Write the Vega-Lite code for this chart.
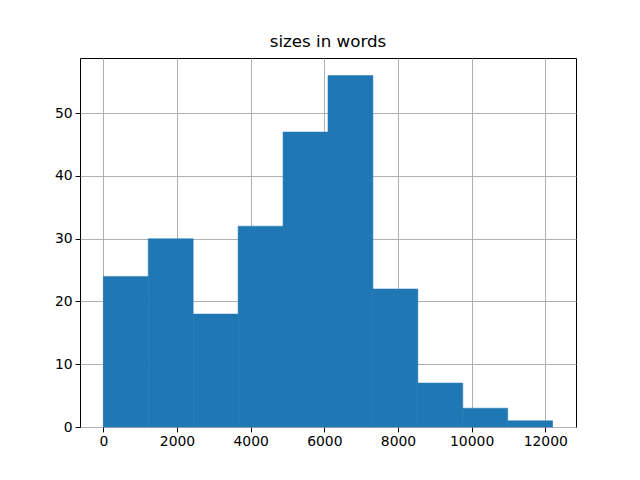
{
  "$schema": "https://vega.github.io/schema/vega-lite/v6.json",
  "width": 496,
  "height": 369,
  "autosize": {"type": "none"},
  "padding": {"left": 80, "top": 58, "right": 64, "bottom": 53},
  "background": "white",
  "title": {
    "text": "sizes in words",
    "anchor": "middle",
    "font": "DejaVu Sans",
    "fontSize": 16.7,
    "fontWeight": "normal",
    "color": "black",
    "offset": 7
  },
  "config": {
    "view": {"stroke": "black", "strokeWidth": 1},
    "axis": {
      "labelFont": "DejaVu Sans",
      "labelFontSize": 13.9,
      "labelColor": "black",
      "domain": false,
      "tickColor": "black",
      "tickSize": 4.9,
      "tickWidth": 1,
      "labelPadding": 3,
      "grid": true,
      "gridColor": "#b0b0b0",
      "gridWidth": 1,
      "title": null,
      "zindex": 1
    }
  },
  "data": {
    "values": [
      {"start": 0, "end": 1220, "count": 24},
      {"start": 1220, "end": 2440, "count": 30},
      {"start": 2440, "end": 3660, "count": 18},
      {"start": 3660, "end": 4880, "count": 32},
      {"start": 4880, "end": 6100, "count": 47},
      {"start": 6100, "end": 7320, "count": 56},
      {"start": 7320, "end": 8540, "count": 22},
      {"start": 8540, "end": 9760, "count": 7},
      {"start": 9760, "end": 10980, "count": 3},
      {"start": 10980, "end": 12200, "count": 1}
    ]
  },
  "mark": {"type": "bar", "color": "#1f77b4", "stroke": "#1f77b4", "strokeWidth": 0.5},
  "encoding": {
    "x": {
      "field": "start",
      "type": "quantitative",
      "scale": {"domain": [-633, 12834], "nice": false, "zero": false, "padding": 0},
      "axis": {"values": [0, 2000, 4000, 6000, 8000, 10000, 12000], "format": "d", "labelFlush": false}
    },
    "x2": {"field": "end"},
    "y": {
      "field": "count",
      "type": "quantitative",
      "scale": {"domain": [0, 58.8], "nice": false, "padding": 0},
      "axis": {"values": [0, 10, 20, 30, 40, 50], "format": "d", "labelPadding": 3}
    },
    "y2": {"datum": 0}
  }
}
